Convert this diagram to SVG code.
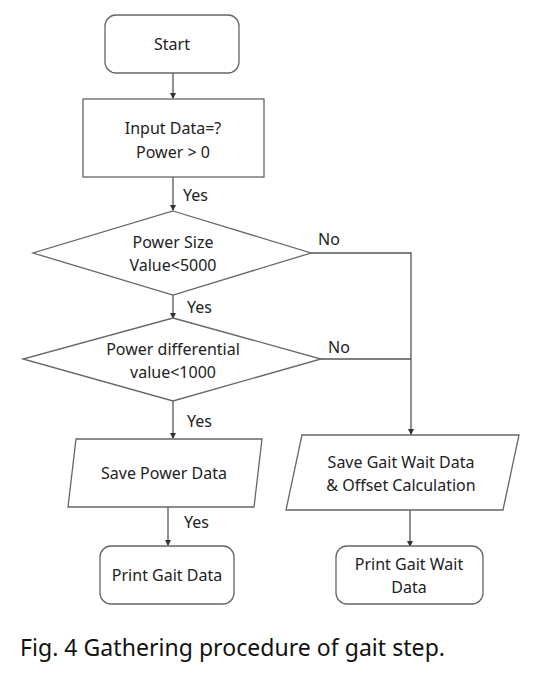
<svg xmlns="http://www.w3.org/2000/svg" width="536" height="675" viewBox="0 0 536 675">
<defs>
<marker id="ah" markerWidth="6" markerHeight="6" refX="5" refY="3" orient="auto" markerUnits="userSpaceOnUse">
<path d="M0,0 L6,3 L0,6 Z" fill="#333"/>
</marker>
<style>
.s{fill:#fff;stroke:#666;stroke-width:1.3}
.t{font-family:"Noto Sans","Liberation Sans",sans-serif;font-size:16px;fill:#222;text-anchor:middle}
.c{fill:none;stroke:#555;stroke-width:1.3}
.l{font-family:"Noto Sans","Liberation Sans",sans-serif;font-size:16px;fill:#222}
</style>
</defs>
<rect width="536" height="675" fill="#fff"/>
<g id="connectors">
<path class="c" d="M173,73 V98" marker-end="url(#ah)"/>
<path class="c" d="M173,177 V210" marker-end="url(#ah)"/>
<path class="c" d="M173,295 V318" marker-end="url(#ah)"/>
<path class="c" d="M173,401 V438" marker-end="url(#ah)"/>
<path class="c" d="M168,507 V545" marker-end="url(#ah)"/>
<path class="c" d="M311,253 H411 V434" marker-end="url(#ah)"/>
<path class="c" d="M321,359 H411"/>
<path class="c" d="M410,510 V546" marker-end="url(#ah)"/>
<text class="l" x="183" y="201">Yes</text>
<text class="l" x="187" y="313">Yes</text>
<text class="l" x="187" y="427">Yes</text>
<text class="l" x="184" y="528">Yes</text>
<text class="l" x="318" y="245">No</text>
<text class="l" x="328" y="353">No</text>
</g>
<g id="start">
<rect class="s" x="105" y="15" width="134" height="58" rx="11"/>
<text class="t" x="172" y="50">Start</text>
</g>
<g id="input">
<rect class="s" x="83" y="99" width="181" height="78"/>
<text class="t" x="173" y="134">Input Data=?</text>
<text class="t" x="173" y="158">Power &gt; 0</text>
</g>
<g id="dec1">
<polygon class="s" points="173,211 311,253 173,295 33,253"/>
<text class="t" x="173" y="248">Power Size</text>
<text class="t" x="173" y="271">Value&lt;5000</text>
</g>
<g id="dec2">
<polygon class="s" points="173,318 321,359 173,401 23,359"/>
<text class="t" x="173" y="355">Power differential</text>
<text class="t" x="173" y="378">value&lt;1000</text>
</g>
<g id="savepower">
<polygon class="s" points="76,439 262,439 254,507 68,507"/>
<text class="t" x="164" y="479">Save Power Data</text>
</g>
<g id="savegait">
<polygon class="s" points="302,435 519,435 503,510 286,510"/>
<text class="t" x="401" y="468">Save Gait Wait Data</text>
<text class="t" x="401" y="491">&amp; Offset Calculation</text>
</g>
<g id="printgait">
<rect class="s" x="100" y="546" width="134" height="58" rx="11"/>
<text class="t" x="167" y="581">Print Gait Data</text>
</g>
<g id="printwait">
<rect class="s" x="336" y="546" width="147" height="58" rx="11"/>
<text class="t" x="409" y="570">Print Gait Wait</text>
<text class="t" x="409" y="593">Data</text>
</g>
<text x="20" y="656" font-family="'Noto Sans','Liberation Sans',sans-serif" font-size="23" fill="#111" textLength="425" lengthAdjust="spacing">Fig. 4 Gathering procedure of gait step.</text>
</svg>
